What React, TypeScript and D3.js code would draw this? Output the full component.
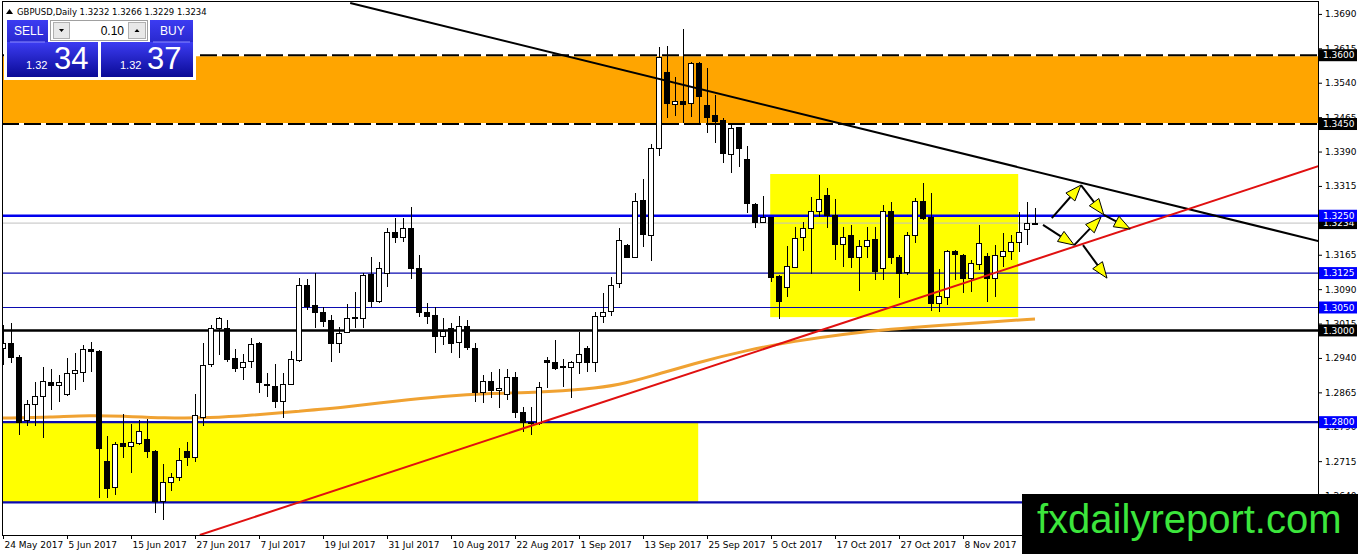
import React, { useEffect, useRef } from 'react';
import * as d3 from 'd3';

// GBPUSD daily candles, 24 May 2017 onwards (bar index = position in array)
const opens = [
  1.2961, 1.2972, 1.2942, 1.2804, 1.2839, 1.2857, 1.2887, 1.2881, 1.2861, 1.2905,
  1.2909, 1.2959, 1.2955, 1.2715, 1.2658, 1.2754, 1.2746, 1.2754, 1.2763, 1.2737,
  1.2626, 1.2669, 1.2680, 1.2737, 1.2722, 1.2811, 1.2926, 1.3005, 1.3005, 1.2939,
  1.2920, 1.2933, 1.2972, 1.2883, 1.2878, 1.2844, 1.2883, 1.2935, 1.3099, 1.3055,
  1.3040, 1.3022, 1.2972, 1.2996, 1.3029, 1.3025, 1.3123, 1.3064, 1.3125, 1.3214,
  1.3203, 1.3223, 1.3136, 1.3040, 1.3033, 1.2987, 1.3005, 1.2974, 1.3009, 1.2961,
  1.2865, 1.2889, 1.2868, 1.2861, 1.2898, 1.2822, 1.2800, 1.2798, 1.2935, 1.2931,
  1.2922, 1.2920, 1.2931, 1.2961, 1.2931, 1.3031, 1.3042, 1.3103, 1.3186, 1.3160,
  1.3284, 1.3206, 1.3397, 1.3563, 1.3493, 1.3500, 1.3495, 1.3583, 1.3491, 1.3469,
  1.3458, 1.3384, 1.3443, 1.3373, 1.3275, 1.3236, 1.3247, 1.3118, 1.3094, 1.3138,
  1.3203, 1.3223, 1.3260, 1.3295, 1.3251, 1.3188, 1.3206, 1.3160, 1.3184, 1.3199,
  1.3134, 1.3260, 1.3160, 1.3127, 1.3206, 1.3280, 1.3247, 1.3059, 1.3071, 1.3171,
  1.3164, 1.3114, 1.3143, 1.3162, 1.3114, 1.3162, 1.3171, 1.3192, 1.3221, 1.3232,
];
const highs = [
  1.3012, 1.3016, 1.2946, 1.2848, 1.2887, 1.2920, 1.2916, 1.2903, 1.2940, 1.2950,
  1.2968, 1.2974, 1.2957, 1.2770, 1.2756, 1.2817, 1.2796, 1.2804, 1.2807, 1.2739,
  1.2708, 1.2689, 1.2743, 1.2756, 1.2861, 1.2972, 1.3012, 1.3029, 1.3022, 1.2959,
  1.2948, 1.2983, 1.2974, 1.2907, 1.2926, 1.2907, 1.2955, 1.3114, 1.3112, 1.3125,
  1.3051, 1.3033, 1.3007, 1.3057, 1.3083, 1.3125, 1.3160, 1.3149, 1.3223, 1.3245,
  1.3245, 1.3269, 1.3164, 1.3059, 1.3051, 1.3027, 1.3016, 1.3031, 1.3022, 1.2972,
  1.2903, 1.2909, 1.2916, 1.2916, 1.2909, 1.2833, 1.2833, 1.2887, 1.2942, 1.2979,
  1.2937, 1.2933, 1.2996, 1.2966, 1.3040, 1.3081, 1.3116, 1.3223, 1.3188, 1.3299,
  1.3330, 1.3406, 1.3618, 1.3620, 1.3552, 1.3657, 1.3585, 1.3585, 1.3572, 1.3513,
  1.3463, 1.3452, 1.3443, 1.3402, 1.3277, 1.3293, 1.3247, 1.3120, 1.3184, 1.3225,
  1.3236, 1.3291, 1.3339, 1.3310, 1.3286, 1.3225, 1.3230, 1.3197, 1.3225, 1.3225,
  1.3273, 1.3280, 1.3164, 1.3214, 1.3288, 1.3321, 1.3299, 1.3134, 1.3175, 1.3175,
  1.3166, 1.3153, 1.3230, 1.3168, 1.3186, 1.3212, 1.3208, 1.3258, 1.3280, 1.3266,
];
const lows = [
  1.2924, 1.2929, 1.2772, 1.2791, 1.2791, 1.2765, 1.2826, 1.2844, 1.2857, 1.2870,
  1.2887, 1.2909, 1.2634, 1.2634, 1.2641, 1.2722, 1.2689, 1.2750, 1.2722, 1.2602,
  1.2586, 1.2650, 1.2671, 1.2704, 1.2713, 1.2791, 1.2920, 1.2946, 1.2931, 1.2909,
  1.2892, 1.2918, 1.2863, 1.2855, 1.2831, 1.2809, 1.2881, 1.2931, 1.3044, 1.3005,
  1.3007, 1.2931, 1.2950, 1.2994, 1.3005, 1.3005, 1.3051, 1.3059, 1.3094, 1.3190,
  1.3192, 1.3112, 1.3029, 1.3014, 1.2950, 1.2968, 1.2950, 1.2940, 1.2957, 1.2844,
  1.2841, 1.2852, 1.2831, 1.2848, 1.2809, 1.2778, 1.2772, 1.2794, 1.2874, 1.2913,
  1.2876, 1.2852, 1.2905, 1.2909, 1.2909, 1.3016, 1.3031, 1.3092, 1.3158, 1.3158,
  1.3182, 1.3151, 1.3380, 1.3463, 1.3467, 1.3452, 1.3465, 1.3450, 1.3430, 1.3408,
  1.3365, 1.3343, 1.3356, 1.3256, 1.3223, 1.3234, 1.3105, 1.3025, 1.3073, 1.3138,
  1.3173, 1.3123, 1.3247, 1.3223, 1.3153, 1.3138, 1.3136, 1.3086, 1.3158, 1.3110,
  1.3110, 1.3145, 1.3070, 1.3120, 1.3190, 1.3240, 1.3042, 1.3040, 1.3055, 1.3110,
  1.3081, 1.3083, 1.3131, 1.3062, 1.3073, 1.3138, 1.3153, 1.3171, 1.3186, 1.3229,
];
const closes = [
  1.2972, 1.2942, 1.2800, 1.2839, 1.2857, 1.2889, 1.2881, 1.2887, 1.2905, 1.2913,
  1.2959, 1.2953, 1.2743, 1.2656, 1.2752, 1.2748, 1.2756, 1.2780, 1.2735, 1.2626,
  1.2669, 1.2680, 1.2717, 1.2722, 1.2815, 1.2924, 1.3005, 1.3027, 1.2937, 1.2918,
  1.2931, 1.2970, 1.2887, 1.2881, 1.2844, 1.2883, 1.2937, 1.3099, 1.3053, 1.3038,
  1.3020, 1.2972, 1.2994, 1.3027, 1.3025, 1.3120, 1.3062, 1.3136, 1.3214, 1.3203,
  1.3223, 1.3136, 1.3038, 1.3031, 1.2987, 1.2998, 1.2972, 1.3009, 1.2963, 1.2865,
  1.2889, 1.2868, 1.2874, 1.2898, 1.2822, 1.2800, 1.2798, 1.2876, 1.2931, 1.2916,
  1.2920, 1.2929, 1.2948, 1.2931, 1.3031, 1.3040, 1.3097, 1.3195, 1.3160, 1.3280,
  1.3210, 1.3397, 1.3596, 1.3495, 1.3498, 1.3493, 1.3583, 1.3511, 1.3465, 1.3456,
  1.3386, 1.3441, 1.3397, 1.3277, 1.3236, 1.3247, 1.3116, 1.3062, 1.3140, 1.3201,
  1.3223, 1.3260, 1.3286, 1.3251, 1.3188, 1.3203, 1.3158, 1.3184, 1.3195, 1.3129,
  1.3260, 1.3160, 1.3125, 1.3206, 1.3280, 1.3245, 1.3059, 1.3073, 1.3171, 1.3166,
  1.3114, 1.3145, 1.3190, 1.3114, 1.3164, 1.3171, 1.3192, 1.3214, 1.3234, 1.3234,
];

// x-axis labels (every 8 bars)
const dateTickBars = [0, 8, 16, 24, 32, 40, 48, 56, 64, 72, 80, 88, 96, 104, 112, 120];
const dateLabels = [
  '24 May 2017', '5 Jun 2017', '15 Jun 2017', '27 Jun 2017', '7 Jul 2017', '19 Jul 2017',
  '31 Jul 2017', '10 Aug 2017', '22 Aug 2017', '1 Sep 2017', '13 Sep 2017', '25 Sep 2017',
  '5 Oct 2017', '17 Oct 2017', '27 Oct 2017', '8 Nov 2017',
];

// right price scale
const priceTicks = [
  1.369, 1.3615, 1.354, 1.3465, 1.339, 1.3315, 1.324, 1.3165, 1.309, 1.3015, 1.294,
  1.2865, 1.279, 1.2715, 1.264,
];

// moving average
const maBars = [0, 6, 11, 15, 20, 26, 31, 37, 43, 49, 55, 61, 67, 73, 77, 81, 87, 93, 99, 105, 111, 117, 123, 129];
const maValues = [
  1.2809, 1.2811, 1.2815, 1.2813, 1.2809, 1.2809, 1.2815, 1.2824, 1.2833, 1.2846, 1.2857, 1.2863,
  1.2865, 1.2872, 1.2881, 1.29, 1.2931, 1.2957, 1.2977, 1.2992, 1.3003, 1.3011, 1.3018, 1.3025,
];

// horizontal levels
const resistanceZone = [1.345, 1.36];
const blueLevels = [1.325, 1.3125, 1.305, 1.28, 1.2625];
const blackLevel = 1.3;
const bidPrice = 1.3234;

// yellow boxes: [barFrom, barTo, priceLow, priceHigh]
const supportBox = [-0.2, 86.9, 1.2625, 1.28];
const rangeBox = [95.9, 126.9, 1.3029, 1.3341];

// trend lines: [bar, price] pairs
const downTrend = [[43.4, 1.3714], [164.4, 1.3195]];
const upTrend = [[24.6, 1.2554], [164.4, 1.3358]];

// scenario arrows
const arrows = [
  [[131.1, 1.3245], [134.75, 1.3317]],
  [[134.75, 1.3317], [137.6, 1.3252]],
  [[137.6, 1.3252], [140.9, 1.3221]],
  [[130, 1.323], [133.9, 1.3186]],
  [[133.9, 1.3186], [137.25, 1.3247]],
  [[135, 1.3186], [138, 1.3114]],
];

const W = 1358;
const H = 554;
const FONT = 'DejaVu Sans, sans-serif';

export default function App() {
  const svgRef = useRef<SVGSVGElement>(null);

  useEffect(() => {
    if (!svgRef.current) return;
    const root = d3.select(svgRef.current);
    root.selectAll('*').remove();
    root.attr('width', W).attr('height', H);

    const plot = { left: 2, right: 1318, top: 1, bottom: 535 };

    const x = d3.scaleLinear().domain([0, 164]).range([3, 1315]);
    const y = d3.scaleLinear().domain([1.2554, 1.3716]).range([535, 2]);

    const defs = root.append('defs');
    defs
      .append('clipPath')
      .attr('id', 'plot-clip')
      .append('rect')
      .attr('x', plot.left)
      .attr('y', plot.top)
      .attr('width', plot.right - plot.left)
      .attr('height', plot.bottom - plot.top);

    const grad = defs
      .append('linearGradient')
      .attr('id', 'btn-grad')
      .attr('x1', '0%')
      .attr('y1', '0%')
      .attr('x2', '0%')
      .attr('y2', '100%');
    grad.append('stop').attr('offset', '0%').attr('stop-color', '#3c3cf2');
    grad.append('stop').attr('offset', '100%').attr('stop-color', '#0a0a96');

    root.append('rect').attr('width', W).attr('height', H).attr('fill', '#ffffff');

    const g = root.append('g').attr('clip-path', 'url(#plot-clip)');

    // Orange resistance zone
    g.append('rect')
      .attr('x', plot.left)
      .attr('width', plot.right - plot.left)
      .attr('y', y(resistanceZone[1]))
      .attr('height', y(resistanceZone[0]) - y(resistanceZone[1]))
      .attr('fill', '#ffa500');

    // Yellow boxes
    [supportBox, rangeBox].forEach(b => {
      g.append('rect')
        .attr('x', x(b[0]))
        .attr('width', x(b[1]) - x(b[0]))
        .attr('y', y(b[3]))
        .attr('height', y(b[2]) - y(b[3]))
        .attr('fill', '#ffff00');
    });

    // Dashed borders of the orange zone
    resistanceZone.forEach(p => {
      g.append('line')
        .attr('x1', plot.left)
        .attr('x2', plot.right)
        .attr('y1', y(p))
        .attr('y2', y(p))
        .attr('stroke', '#ffffff')
        .attr('stroke-width', 2);
      g.append('line')
        .attr('x1', plot.left)
        .attr('x2', plot.right)
        .attr('y1', y(p))
        .attr('y2', y(p))
        .attr('stroke', '#000000')
        .attr('stroke-width', 2)
        .attr('stroke-dasharray', '17,5');
    });

    // Bid line
    g.append('line')
      .attr('x1', plot.left)
      .attr('x2', plot.right)
      .attr('y1', y(bidPrice))
      .attr('y2', y(bidPrice))
      .attr('stroke', '#c0c0c0')
      .attr('stroke-width', 1);

    // Blue levels
    const blueWidths = [2.5, 1.2, 1.2, 2.2, 2.2];
    blueLevels.forEach((p, i) => {
      g.append('line')
        .attr('x1', plot.left)
        .attr('x2', plot.right)
        .attr('y1', y(p))
        .attr('y2', y(p))
        .attr('stroke', i === 0 ? '#0000ee' : '#0b0bb0')
        .attr('stroke-width', blueWidths[i]);
    });

    g.append('line')
      .attr('x1', plot.left)
      .attr('x2', plot.right)
      .attr('y1', y(blackLevel))
      .attr('y2', y(blackLevel))
      .attr('stroke', '#000000')
      .attr('stroke-width', 2.5);

    // Moving average
    const maLine = d3
      .line<number>()
      .x((_, i) => x(maBars[i]))
      .y(d => y(d))
      .curve(d3.curveBasis);
    g.append('path')
      .datum(maValues)
      .attr('fill', 'none')
      .attr('stroke', '#f0a232')
      .attr('stroke-width', 3)
      .attr('d', maLine);

    // Candles
    const bars = d3.range(opens.length);
    const candles = g.append('g').attr('shape-rendering', 'crispEdges');
    candles
      .selectAll('.wick')
      .data(bars)
      .enter()
      .append('line')
      .attr('x1', i => x(i))
      .attr('x2', i => x(i))
      .attr('y1', i => y(highs[i]))
      .attr('y2', i => y(lows[i]))
      .attr('stroke', '#000')
      .attr('stroke-width', 1);
    candles
      .selectAll('.body')
      .data(bars)
      .enter()
      .append('rect')
      .attr('x', i => x(i) - 2.5)
      .attr('width', 5)
      .attr('y', i => y(Math.max(opens[i], closes[i])))
      .attr('height', i => Math.max(1, Math.abs(y(opens[i]) - y(closes[i]))))
      .attr('fill', i => (closes[i] >= opens[i] ? '#ffffff' : '#000000'))
      .attr('stroke', '#000')
      .attr('stroke-width', 1);

    // Trend lines
    const seg = d3
      .line<number[]>()
      .x(d => x(d[0]))
      .y(d => y(d[1]));
    g.append('path')
      .datum(downTrend)
      .attr('d', seg)
      .attr('stroke', '#000')
      .attr('stroke-width', 2)
      .attr('fill', 'none');
    g.append('path')
      .datum(upTrend)
      .attr('d', seg)
      .attr('stroke', '#e01010')
      .attr('stroke-width', 2)
      .attr('fill', 'none');

    // Arrows
    arrows.forEach(([a, b]) => {
      const x1 = x(a[0]);
      const y1 = y(a[1]);
      const x2 = x(b[0]);
      const y2 = y(b[1]);
      const ang = Math.atan2(y2 - y1, x2 - x1);
      const len = 16;
      const hw = 6;
      const bx = x2 - Math.cos(ang) * len;
      const by = y2 - Math.sin(ang) * len;
      g.append('line')
        .attr('x1', x1)
        .attr('y1', y1)
        .attr('x2', bx)
        .attr('y2', by)
        .attr('stroke', '#000')
        .attr('stroke-width', 2);
      const pts = [
        [x2, y2],
        [bx + Math.sin(ang) * hw, by - Math.cos(ang) * hw],
        [bx - Math.sin(ang) * hw, by + Math.cos(ang) * hw],
      ];
      g.append('polygon')
        .attr('points', pts.map(p => p.join(',')).join(' '))
        .attr('fill', '#ffff00')
        .attr('stroke', '#000')
        .attr('stroke-width', 1);
    });

    // Frame
    root
      .append('rect')
      .attr('x', plot.left + 0.5)
      .attr('y', plot.top + 0.5)
      .attr('width', plot.right - plot.left)
      .attr('height', plot.bottom - plot.top)
      .attr('fill', 'none')
      .attr('stroke', '#000')
      .attr('stroke-width', 1);

    // Right price axis
    const yAxis = d3
      .axisRight(y)
      .tickValues(priceTicks)
      .tickFormat(d => (d as number).toFixed(4))
      .tickSize(4)
      .tickSizeOuter(0)
      .tickPadding(3);
    const ya = root.append('g').attr('transform', `translate(${plot.right},0)`).call(yAxis);
    ya.selectAll('text').attr('font-family', FONT).attr('font-size', '9px').attr('fill', '#000');
    ya.select('.domain').attr('stroke', '#000');
    ya.selectAll('.tick line').attr('stroke', '#000');

    // Bottom date axis
    const xAxis = d3
      .axisBottom(x)
      .tickValues(dateTickBars)
      .tickFormat((_, i) => dateLabels[i])
      .tickSize(4)
      .tickSizeOuter(0);
    const xa = root.append('g').attr('transform', `translate(0,${plot.bottom})`).call(xAxis);
    xa.select('.domain').remove();
    xa.selectAll('.tick line').attr('stroke', '#000');
    xa.selectAll('text')
      .attr('font-family', FONT)
      .attr('font-size', '9px')
      .attr('fill', '#000')
      .attr('text-anchor', 'start')
      .attr('x', 1)
      .attr('y', 7);

    // Price labels on the axis
    const tags: [number, string][] = [
      [1.36, '#000000'],
      [1.345, '#000000'],
      [bidPrice, '#000000'],
      [1.325, '#0000ff'],
      [1.3125, '#0000ff'],
      [1.305, '#0000ff'],
      [1.3, '#000000'],
      [1.28, '#0000ff'],
    ];
    tags.forEach(([p, c]) => {
      root
        .append('rect')
        .attr('x', plot.right + 1)
        .attr('y', y(p) - 6)
        .attr('width', 38)
        .attr('height', 12)
        .attr('fill', c);
      root
        .append('text')
        .attr('x', plot.right + 5)
        .attr('y', y(p))
        .attr('dy', '0.35em')
        .attr('font-family', FONT)
        .attr('font-size', '9px')
        .attr('fill', '#fff')
        .text(p.toFixed(4));
    });

    // Symbol header
    root
      .append('path')
      .attr('d', 'M6,14 L9.5,9 L13,14 Z')
      .attr('fill', '#000');
    root
      .append('text')
      .attr('x', 17)
      .attr('y', 15)
      .attr('font-family', FONT)
      .attr('font-size', '8.5px')
      .attr('fill', '#000')
      .text(`GBPUSD,Daily ${opens[129].toFixed(4)} ${highs[129].toFixed(4)} ${lows[129].toFixed(4)} ${closes[129].toFixed(4)}`);

    // One-click trading panel
    const panel = root.append('g');
    const PF = 'Liberation Sans, Arial, sans-serif';
    panel.append('rect').attr('x', 4).attr('y', 18).attr('width', 192).attr('height', 62).attr('fill', '#ffffff');
    panel.append('rect').attr('x', 7).attr('y', 20).attr('width', 41).attr('height', 57).attr('fill', 'url(#btn-grad)');
    panel.append('rect').attr('x', 7).attr('y', 42).attr('width', 91).attr('height', 35).attr('fill', 'url(#btn-grad)');
    panel.append('rect').attr('x', 150).attr('y', 20).attr('width', 43).attr('height', 57).attr('fill', 'url(#btn-grad)');
    panel.append('rect').attr('x', 101).attr('y', 42).attr('width', 92).attr('height', 35).attr('fill', 'url(#btn-grad)');
    panel.append('line').attr('x1', 10).attr('x2', 45).attr('y1', 42).attr('y2', 42).attr('stroke', '#8c8cff');
    panel.append('line').attr('x1', 153).attr('x2', 190).attr('y1', 42).attr('y2', 42).attr('stroke', '#8c8cff');
    // spinner
    panel.append('rect').attr('x', 50.5).attr('y', 20.5).attr('width', 97).attr('height', 20).attr('fill', '#fff').attr('stroke', '#a0a0a0');
    panel.append('rect').attr('x', 53.5).attr('y', 22.5).attr('width', 16).attr('height', 16).attr('fill', '#e8e8e8').attr('stroke', '#b0b0b0');
    panel.append('rect').attr('x', 128.5).attr('y', 22.5).attr('width', 17).attr('height', 16).attr('fill', '#e8e8e8').attr('stroke', '#b0b0b0');
    panel.append('path').attr('d', 'M59,29 L64,29 L61.5,32 Z').attr('fill', '#000');
    panel.append('path').attr('d', 'M134.5,32 L139.5,32 L137,29 Z').attr('fill', '#000');
    panel
      .append('text')
      .attr('x', 124)
      .attr('y', 35)
      .attr('text-anchor', 'end')
      .attr('font-family', PF)
      .attr('font-size', '12px')
      .attr('fill', '#000')
      .text('0.10');
    panel.append('text').attr('x', 14).attr('y', 35).attr('font-family', PF).attr('font-size', '12px').attr('fill', '#fff').text('SELL');
    panel.append('text').attr('x', 160).attr('y', 35).attr('font-family', PF).attr('font-size', '12px').attr('fill', '#fff').text('BUY');
    const bid = '1.3234';
    const ask = '1.3237';
    [
      [26, 54, bid],
      [120, 147, ask],
    ].forEach(([sx, bx, q]) => {
      panel
        .append('text')
        .attr('x', sx as number)
        .attr('y', 69)
        .attr('font-family', PF)
        .attr('font-size', '11px')
        .attr('fill', '#fff')
        .text((q as string).slice(0, 4));
      panel
        .append('text')
        .attr('x', bx as number)
        .attr('y', 69)
        .attr('font-family', PF)
        .attr('font-size', '31px')
        .attr('fill', '#fff')
        .text((q as string).slice(4));
    });

    // Watermark
    root.append('rect').attr('x', 1022).attr('y', 494).attr('width', W - 1022).attr('height', H - 494).attr('fill', '#000');
    root
      .append('text')
      .attr('x', 1037)
      .attr('y', 533)
      .attr('font-family', 'Liberation Sans, Arial, sans-serif')
      .attr('font-size', '40px')
      .attr('fill', '#3ce63c')
      .text('fxdailyreport.com');
  }, []);

  return (
    <div style={{ position: 'absolute', left: 0, top: 0 }}>
      <svg ref={svgRef} style={{ display: 'block' }}></svg>
    </div>
  );
}
